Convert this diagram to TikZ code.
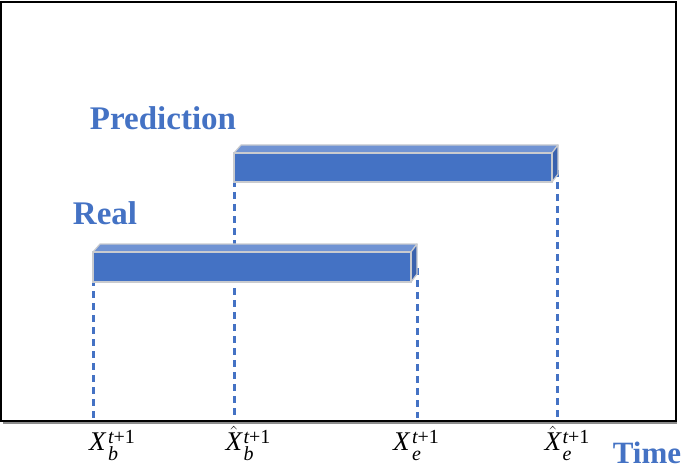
\documentclass[tikz,border=0pt]{standalone}
\usepackage{fontspec}
\setmainfont{Liberation Serif}
\definecolor{barfront}{HTML}{4472C4}
\definecolor{bartop}{HTML}{7093D3}
\definecolor{barside}{HTML}{3A62AE}
\definecolor{baredge}{HTML}{C9CBCF}
\definecolor{labblue}{HTML}{4472C4}
\newcommand{\drawprism}[4]{%
  \fill[bartop,draw=baredge,line width=1.2pt,line join=round] (#1,#3) -- ++(7,-8) -- (#2+6,#3-8) -- (#2,#3) -- cycle;
  \fill[barside,draw=baredge,line width=1.2pt,line join=round] (#2,#3) -- (#2+6,#3-8) -- (#2+6,#4-8) -- (#2,#4) -- cycle;
  \fill[barfront,draw=baredge,line width=1.2pt] (#1,#3) rectangle (#2,#4);}
\newcommand{\tlab}[2]{#1\kern1.5pt\makebox[0pt][l]{\raisebox{-10pt}{\fontsize{20}{20}\selectfont\itshape #2}}\raisebox{7pt}{\fontsize{20}{20}\selectfont\itshape t\upshape +1}}
\begin{document}
\begin{tikzpicture}[x=1pt,y=-1pt,
  dashline/.style={draw=labblue,line width=3pt,dash pattern=on 7pt off 5pt},
  biglabel/.style={text=labblue,font=\fontsize{33}{36}\selectfont\bfseries,inner sep=0pt},
  mathlabel/.style={font=\fontsize{27}{30}\selectfont,inner sep=0pt,anchor=base}]
\useasboundingbox (0,0) rectangle (685,465);
% axis coordinates
\coordinate (rbtop) at (93,267);
\coordinate (rbax) at (93,418);
\coordinate (pbtop) at (234,168);
\coordinate (pbax) at (234,418);
\coordinate (retop) at (417,268);
\coordinate (reax) at (417,418);
\coordinate (petop) at (557,170);
\coordinate (peax) at (557,418);
\draw[dashline] (rbtop) -- (rbax);
\draw[dashline] (pbtop) -- (pbax);
\draw[dashline] (retop) -- (reax);
\draw[dashline] (petop) -- (peax);
% bars
\drawprism{93}{411}{252}{282}
\drawprism{234}{552}{153}{182}
% frame
\draw[black!45,line width=2pt] (3,423) -- (677,423);
\draw[black,line width=2pt] (1,2) rectangle (676,421);
% labels
\node[biglabel] (pred) at (163,118) {Prediction};
\node[biglabel] (real) at (105,213) {Real};
\node[biglabel,font=\fontsize{31}{34}\selectfont\bfseries] (time) at (647,453) {Time};
\node[mathlabel] (l1) at (112,450) {\tlab{\textit{X}}{b}};
\node[mathlabel] (l2) at (248,450) {\tlab{$\hat{\hbox{\itshape X}}$}{b}};
\node[mathlabel] (l3) at (416,450) {\tlab{\textit{X}}{e}};
\node[mathlabel] (l4) at (567,450) {\tlab{$\hat{\hbox{\itshape X}}$}{e}};
\end{tikzpicture}
\end{document}
